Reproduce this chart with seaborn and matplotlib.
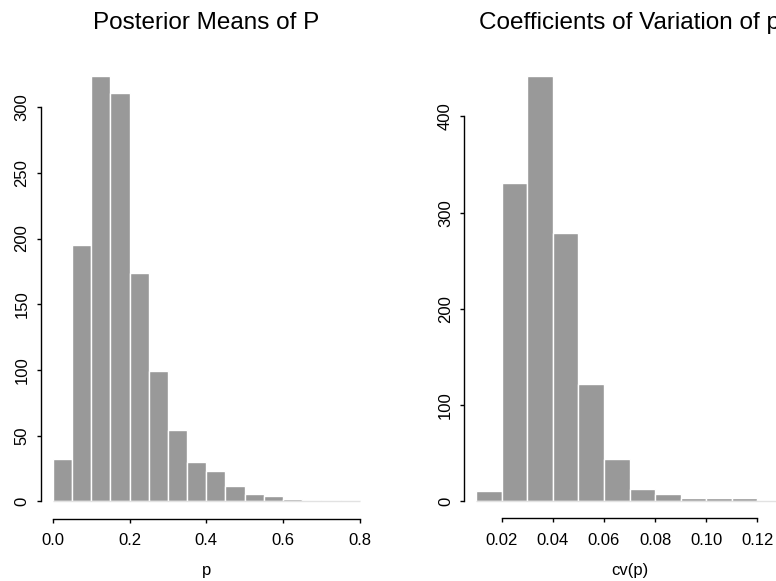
import numpy as np
import pandas as pd
import matplotlib
matplotlib.use("Agg")
import matplotlib.pyplot as plt
import seaborn as sns

# ---- data ----
p_edges = [0.00, 0.05, 0.10, 0.15, 0.20, 0.25, 0.30, 0.35, 0.40,
           0.45, 0.50, 0.55, 0.60, 0.65, 0.70, 0.75, 0.80]
p_counts = [32, 195, 324, 311, 174, 99, 54, 30, 23, 12, 6, 4, 2, 1, 1, 1]

cv_edges = [0.01, 0.02, 0.03, 0.04, 0.05, 0.06, 0.07, 0.08, 0.09,
            0.10, 0.11, 0.12, 0.13]
cv_counts = [11, 331, 442, 279, 122, 44, 13, 8, 3, 3, 3, 1]

p_xticks = [0.0, 0.2, 0.4, 0.6, 0.8]
p_xticklabels = ["0.0", "0.2", "0.4", "0.6", "0.8"]
p_yticks = [0, 50, 100, 150, 200, 250, 300]
cv_xticks = [0.02, 0.04, 0.06, 0.08, 0.10, 0.12]
cv_xticklabels = ["0.02", "0.04", "0.06", "0.08", "0.10", "0.12"]
cv_yticks = [0, 100, 200, 300, 400]

titles = ["Posterior Means of P", "Coefficients of Variation of p"]
xlabels = ["p", "cv(p)"]

sns.set_style("white")
plt.rcParams["font.family"] = ["Liberation Sans", "DejaVu Sans"]
plt.rcParams["text.color"] = "black"
plt.rcParams["axes.labelcolor"] = "black"

W, H = 776, 581
fig = plt.figure(figsize=(W / 100, H / 100), dpi=100)

def px_axes(x0, x1, y0, y1):
    return fig.add_axes([x0 / W, (H - y1) / H, (x1 - x0) / W, (y1 - y0) / H])

ax1 = px_axes(40.5, 372, 58.5, 518.5)
ax2 = px_axes(464, 795, 59, 518.3)

def draw(ax, edges, counts, xticks, xticklabels, yticks, title, xlabel):
    edges_arr = np.asarray(edges, dtype=float)
    centers = (edges_arr[:-1] + edges_arr[1:]) / 2
    df = pd.DataFrame({"x": centers, "w": np.asarray(counts, dtype=float)})
    sns.histplot(data=df, x="x", weights="w", bins=list(edges), stat="count",
                 color="#999999", edgecolor="white", linewidth=1.0,
                 alpha=1.0, ax=ax)
    ax.hlines(0, edges[0], edges[-1], color="#e2e2e2", lw=1.0, zorder=5)
    span = edges[-1] - edges[0]
    ax.set_xlim(edges[0] - 0.04 * span, edges[-1] + 0.04 * span)
    ymax = max(counts)
    ax.set_ylim(-0.04 * ymax, ymax * 1.04)
    ax.set_ylabel("")
    ax.set_xticks(xticks)
    ax.set_xticklabels(xticklabels)
    ax.set_yticks(yticks)
    ax.set_yticklabels([str(v) for v in yticks])
    for s in ["top", "right"]:
        ax.spines[s].set_visible(False)
    ax.spines["left"].set_bounds(yticks[0], yticks[-1])
    ax.spines["bottom"].set_bounds(xticks[0], xticks[-1])
    for s in ["left", "bottom"]:
        ax.spines[s].set_color("black")
        ax.spines[s].set_linewidth(1.0)
    ax.tick_params(axis="both", direction="out", length=3.0, width=1.0,
                   color="black", labelsize=12, labelcolor="black",
                   left=True, bottom=True)
    ax.tick_params(axis="x", pad=7.5)
    ax.tick_params(axis="y", pad=5, labelrotation=90)
    for lab in ax.get_yticklabels():
        lab.set_va("center")
    ax.set_title(title, fontsize=17.5, pad=21.5, color="black")
    ax.set_xlabel(xlabel, fontsize=12, color="black")
    ax.xaxis.label.set_va("center")
    ax.xaxis.set_label_coords(0.5, -(570.5 - 518.5) / 460)
    ax.grid(False)

draw(ax1, p_edges, p_counts, p_xticks, p_xticklabels, p_yticks, titles[0], xlabels[0])
draw(ax2, cv_edges, cv_counts, cv_xticks, cv_xticklabels, cv_yticks, titles[1], xlabels[1])

fig.savefig("out.png", dpi=100)
